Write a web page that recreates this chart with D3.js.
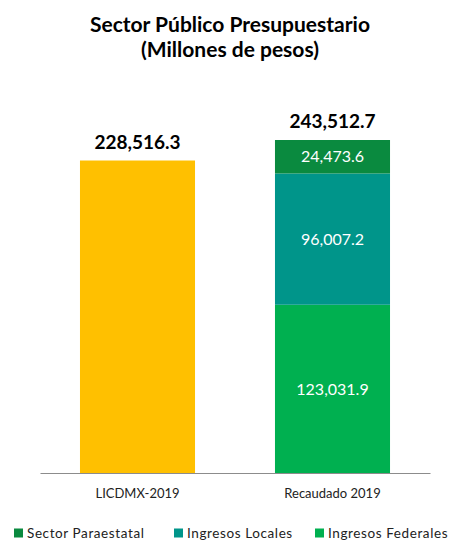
<!DOCTYPE html>
<html><head><meta charset="utf-8">
<script src="https://cdn.jsdelivr.net/npm/d3@7"></script>
<style>body{margin:0;background:#fff}svg{display:block}text{font-family:Lato,"Noto Sans",sans-serif}</style>
</head><body><svg id="c" width="452" height="542"></svg>
<script>
const categories = ["LICDMX-2019", "Recaudado 2019"];
const seriesNames = ["Ingresos Federales", "Ingresos Locales", "Sector Paraestatal"];
const licdmx = [228516.3];
const recaudado = [123031.9, 96007.2, 24473.6];
const totals = [228516.3, 243512.7];
const legendOrder = ["Sector Paraestatal", "Ingresos Locales", "Ingresos Federales"];
const colors = {"Ingresos Federales":"#00B050","Ingresos Locales":"#00958A","Sector Paraestatal":"#0A8A3F"};
const licColor = "#FFC000";

const svg = d3.select("#c");
const fmt = d3.format(",.1f");
const x = d3.scaleBand().domain(categories).range([40, 430]).paddingInner(0.41).paddingOuter(0.205);
const y = d3.scaleLinear().domain([0, 243512.7]).range([473, 140]);

svg.append("text").attr("x",230).attr("y",32).attr("text-anchor","middle").attr("font-weight","bold").attr("font-size",21).text("Sector Público Presupuestario");
svg.append("text").attr("x",230).attr("y",57).attr("text-anchor","middle").attr("font-weight","bold").attr("font-size",21).text("(Millones de pesos)");

// LICDMX bar
svg.append("rect").attr("x",x(categories[0])).attr("width",x.bandwidth())
  .attr("y",y(licdmx[0])).attr("height",y(0)-y(licdmx[0])).attr("fill",licColor);

// stacked
let cum = 0;
recaudado.forEach((v,i)=>{
  const y0 = y(cum), y1 = y(cum+v);
  svg.append("rect").attr("x",x(categories[1])).attr("width",x.bandwidth())
    .attr("y",y1).attr("height",y0-y1).attr("fill",colors[seriesNames[i]]);
  svg.append("text").attr("x",x(categories[1])+x.bandwidth()/2).attr("y",(y0+y1)/2)
    .attr("dy","0.36em").attr("text-anchor","middle").attr("fill","#fff").attr("font-size",16).text(fmt(v));
  cum += v;
});

// totals
categories.forEach((c,i)=>{
  svg.append("text").attr("x",x(c)+x.bandwidth()/2).attr("y",y(totals[i])-12)
    .attr("text-anchor","middle").attr("font-weight","bold").attr("font-size",19).text(fmt(totals[i]));
});

// axis
const ax = svg.append("g").attr("transform","translate(0,473)").call(d3.axisBottom(x).tickSize(0).tickPadding(16));
ax.select(".domain").attr("stroke","#8c8c8c").attr("stroke-width",1.2);
ax.selectAll("text").attr("font-size",13).attr("fill","#222").style("font-family","Lato,'Noto Sans',sans-serif");

// legend
const lx = [14, 174, 315];
legendOrder.forEach((n,i)=>{
  const g = svg.append("g").attr("transform",`translate(${lx[i]},533)`);
  g.append("rect").attr("x",0).attr("y",-4.5).attr("width",9).attr("height",9).attr("fill",colors[n]);
  g.append("text").attr("x",13).attr("y",0).attr("dy","0.36em").attr("font-size",13.5).attr("letter-spacing",0.6).attr("fill","#222").text(n);
});
</script></body></html>
